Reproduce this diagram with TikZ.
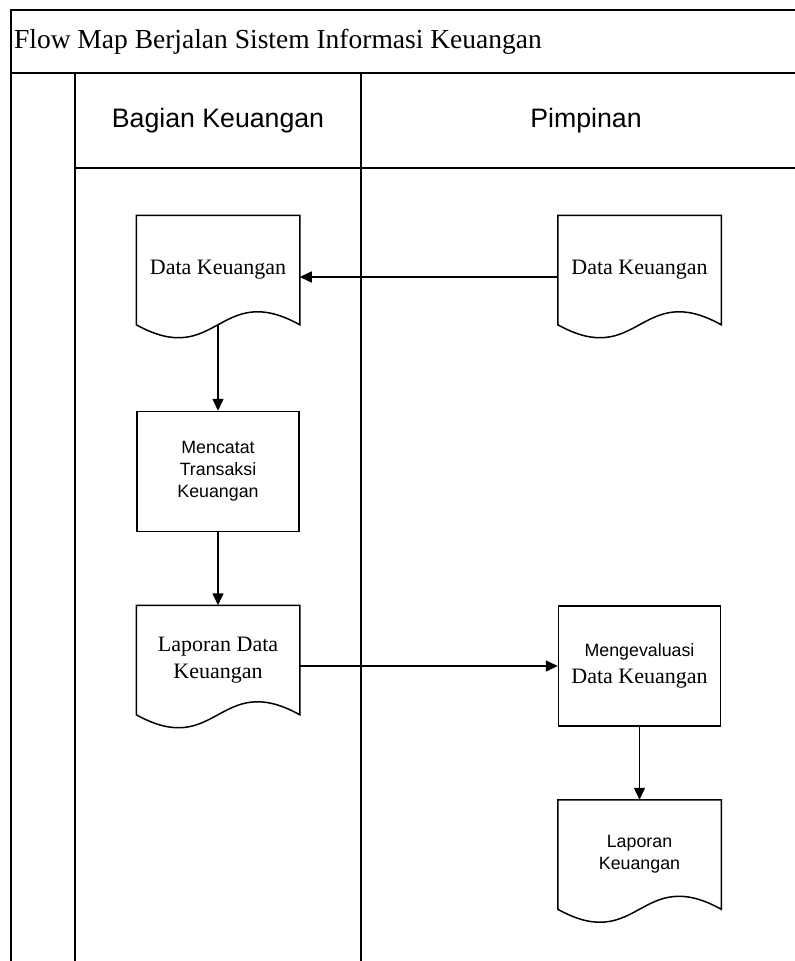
\documentclass[tikz,border=0pt]{standalone}
\usepackage{fontspec}
\setmainfont{Liberation Serif}
\setsansfont{Liberation Sans}
\usetikzlibrary{positioning}
\usetikzlibrary{arrows.meta}
\usetikzlibrary{calc}

\begin{document}
\begin{tikzpicture}[
            > = {Triangle[length=12pt,width=11pt]}, % arrow head style
            line width = 1.5pt, % line style
            node distance = 73pt % distance between nodes
        ]

        \tikzstyle{frame}=[line width = 2pt]
        \tikzstyle{proc}=[
            draw,
            minimum width = 162pt,
            minimum height = 120pt,
            align = center,
            font = \sffamily\fontsize{17.8}{22}\selectfont
        ]
        \tikzstyle{doc}=[
            draw = none,
            minimum width = 162pt,
            minimum height = 108pt,
            align = center,
            font = \fontsize{22}{27}\selectfont,
            append after command = {\pgfextra{
                \draw[line join = miter] (\tikzlastnode.north west) -- (\tikzlastnode.north east)
                    -- (\tikzlastnode.south east)
                    .. controls ($(\tikzlastnode.south east)+(-81pt,45pt)$)
                    and ($(\tikzlastnode.south west)+(81pt,-45pt)$) .. (\tikzlastnode.south west)
                    -- cycle;
            }}
        ]

        \clip (0pt,0pt) rectangle (795pt,-961pt);

        % swimlanes
        \draw[frame] (11pt,-961pt) -- (11pt,-10pt) -- (811pt,-10pt);
        \draw[frame] (11pt,-73pt) -- (811pt,-73pt);
        \draw[frame] (75pt,-73pt) -- (75pt,-961pt);
        \draw[frame] (361pt,-73pt) -- (361pt,-961pt);
        \draw[frame] (75pt,-168pt) -- (811pt,-168pt);

        \node (TITLE) [anchor = west, font = \fontsize{27.5}{30}\selectfont] at (10pt,-41.5pt) {Flow Map Berjalan Sistem Informasi Keuangan};
        \node (BK) [font = \sffamily\fontsize{26.7}{30}\selectfont] at (218pt,-120.5pt) {Bagian Keuangan};
        \node (PIM) [font = \sffamily\fontsize{26.7}{30}\selectfont] at (586pt,-120.5pt) {Pimpinan};

        % bagian keuangan
        \node[doc] (DK) at (218pt,-270pt) {Data Keuangan};
        \node[proc] (CATAT) [below = 86pt of DK] {Mencatat\\Transaksi\\Keuangan};
        \node[doc] (LDK) [below = of CATAT] {Laporan Data\\Keuangan};

        % pimpinan
        \node[doc] (DP) [right = 258pt of DK] {Data Keuangan};
        \node[proc] (EVAL) [right = 258pt of LDK, yshift = -6pt] {Mengevaluasi\\[5pt]{\rmfamily\fontsize{22}{26}\selectfont Data Keuangan}};
        \node[doc] (LK) [below = of EVAL, font = \sffamily\fontsize{17.8}{22}\selectfont] {Laporan\\Keuangan};

        % flows
        \draw[->] ([yshift = -7pt]DP.west) -- ([yshift = -7pt]DK.east);
        \draw[->] (DK.south) -- (CATAT.north);
        \draw[->] (CATAT.south) -- (LDK.north);
        \draw[->] ([yshift = -6pt]LDK.east) -- (EVAL.west);
        \draw[->] (EVAL.south) -- (LK.north);

\end{tikzpicture}
\end{document}
